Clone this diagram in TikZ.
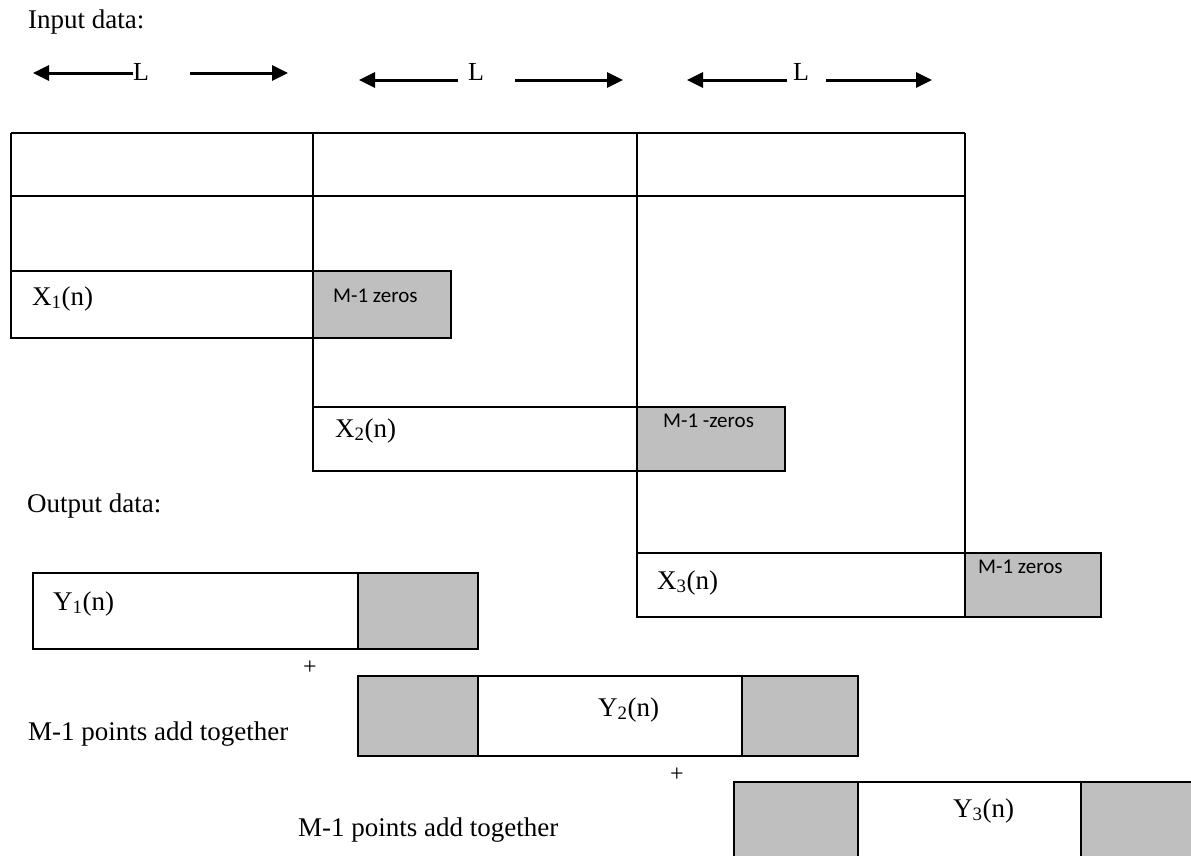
\documentclass[tikz,border=0pt]{standalone}
\usepackage{fontspec}
\setmainfont{Liberation Serif}
\newfontfamily\calfont{Carlito}
\usetikzlibrary{arrows.meta}
\definecolor{boxgray}{RGB}{191,191,191}
\begin{document}
\begin{tikzpicture}[x=1pt,y=-1pt,
  ln/.style={line width=1.8pt},
  gbox/.style={ln, fill=boxgray},
  wbox/.style={ln, fill=white},
  arr/.style={line width=3pt, -{Triangle[length=16pt,width=15pt]}},
  lab/.style={anchor=base west, inner sep=0pt, font=\fontsize{27}{30}\selectfont},
  llab/.style={anchor=base west, inner sep=0pt, font=\fontsize{26}{30}\selectfont},
  zlab/.style={anchor=base west, inner sep=0pt, font=\calfont\fontsize{21}{24}\selectfont},
  plab/.style={inner sep=0pt, font=\fontsize{24}{26}\selectfont},
]
\useasboundingbox (0,0) rectangle (1191,855);
\clip (0,0) rectangle (1191,855);

% ---- headings
\node[lab] (indata) at (28,28) {Input data:};
\node[lab] (outdata) at (27,512) {Output data:};

% ---- L arrows
\node[llab] (L1) at (133,80) {L};
\node[llab] (L2) at (468,80) {L};
\node[llab] (L3) at (793,80) {L};
\coordinate (a1a) at (133,73); \coordinate (a1b) at (33,73);
\coordinate (a1c) at (190,73); \coordinate (a1d) at (288,73);
\coordinate (a2a) at (458,80); \coordinate (a2b) at (359,80);
\coordinate (a2c) at (515,80); \coordinate (a2d) at (623,80);
\coordinate (a3a) at (787,80); \coordinate (a3b) at (687,80);
\coordinate (a3c) at (826,80); \coordinate (a3d) at (932,80);
\draw[arr] (a1a) -- (a1b);
\draw[arr] (a1c) -- (a1d);
\draw[arr] (a2a) -- (a2b);
\draw[arr] (a2c) -- (a2d);
\draw[arr] (a3a) -- (a3b);
\draw[arr] (a3c) -- (a3d);

% ---- input grid
\draw[ln] (11,133) -- (965,133);
\draw[ln] (11,196) -- (965,196);
\draw[ln] (11,133) -- (11,338);
\draw[ln] (313,133) -- (313,471);
\draw[ln] (637,133) -- (637,617);
\draw[ln] (965,133) -- (965,553);

\draw[ln] (11,271) rectangle (313,338);
\draw[gbox] (313,271) rectangle (451,338);
\draw[ln] (313,407) rectangle (637,471);
\draw[gbox] (637,407) rectangle (785,471);
\draw[ln] (637,553) rectangle (965,617);
\draw[gbox] (965,553) rectangle (1101,617);

\node[lab] (x1) at (32,305) {X\textsubscript{1}(n)};
\node[lab] (x2) at (335,437) {X\textsubscript{2}(n)};
\node[lab] (x3) at (657,589) {X\textsubscript{3}(n)};
\node[zlab] (z1) at (333,302) {M-1 zeros};
\node[zlab] (z2) at (663,427) {M-1 -zeros};
\node[zlab] (z3) at (978,573) {M-1 zeros};

% ---- output blocks
\draw[wbox] (33,573) rectangle (358,649);
\draw[gbox] (358,573) rectangle (478,649);

\draw[gbox] (358,676) rectangle (478,756);
\draw[wbox] (478,676) rectangle (742,756);
\draw[gbox] (742,676) rectangle (858,756);

\draw[gbox] (734,782) rectangle (858,880);
\draw[wbox] (858,782) rectangle (1081,880);
\draw[gbox] (1081,782) rectangle (1210,880);

\node[lab] (y1) at (53,610) {Y\textsubscript{1}(n)};
\node[lab] (y2) at (598,716) {Y\textsubscript{2}(n)};
\node[lab] (y3) at (953,817) {Y\textsubscript{3}(n)};

\node[plab] (plus1) at (310,668) {+};
\node[plab] (plus2) at (677,775) {+};
\node[lab] (add1) at (28,740) {M-1 points add together};
\node[lab] (add2) at (298,836) {M-1 points add together};
\end{tikzpicture}
\end{document}
